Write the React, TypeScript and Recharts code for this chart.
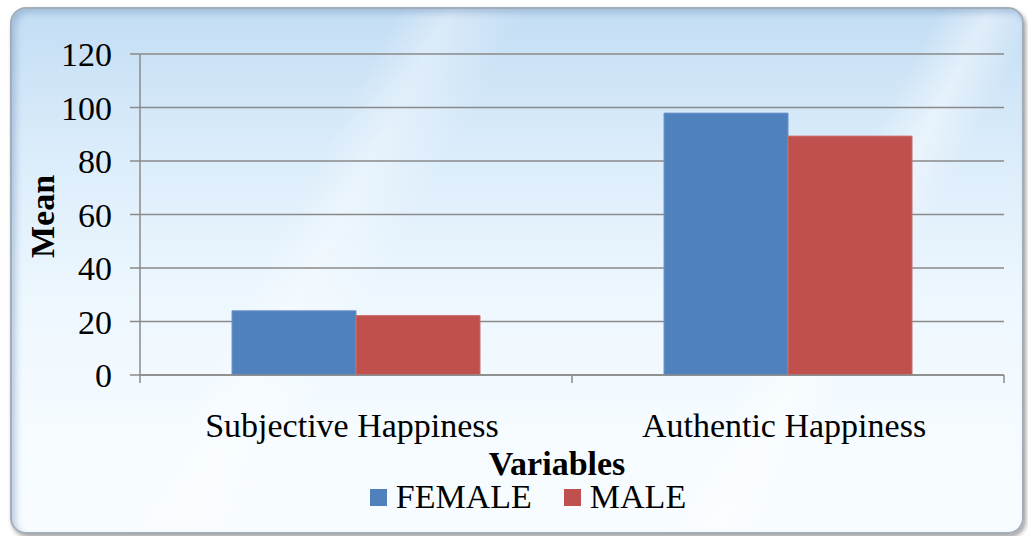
import React from 'react';
import { BarChart, Bar, XAxis, YAxis, CartesianGrid, Legend, Label } from 'recharts';

const categories = ['Subjective Happiness', 'Authentic Happiness'];
const femaleValues = [24, 97.9];
const maleValues = [22.2, 89.3];
const yTicks = [0, 20, 40, 60, 80, 100, 120];
const seriesNames = { female: 'FEMALE', male: 'MALE' };

const data = categories.map((c, i) => ({ name: c, female: femaleValues[i], male: maleValues[i] }));

const FONT = '"Liberation Serif", "Times New Roman", serif';
const AXIS = '#8a8a8a';

const CategoryTick = (props: any) => {
  const { x, y, payload, index, visibleTicksCount } = props;
  const off = payload.offset || 0;
  const isLast = index === visibleTicksCount - 1;
  return (
    <g>
      <line x1={x - off} x2={x - off} y1={y} y2={y + 8} stroke={AXIS} strokeWidth={1.5} />
      {isLast && <line x1={x + off} x2={x + off} y1={y} y2={y + 8} stroke={AXIS} strokeWidth={1.5} />}
      <text x={x - 4} y={y + 62} textAnchor="middle" fontFamily={FONT} fontSize={34} fill="#000">
        {payload.value}
      </text>
    </g>
  );
};

const LegendContent = (props: any) => {
  const { payload } = props;
  return (
    <div style={{ display: 'flex', justifyContent: 'center', alignItems: 'center', paddingLeft: 28, fontFamily: FONT, fontSize: 34, lineHeight: '34px', color: '#000' }}>
      {payload.map((p: any, i: number) => (
        <div key={i} style={{ display: 'flex', alignItems: 'center', marginRight: i === payload.length - 1 ? 0 : 32 }}>
          <span style={{ display: 'inline-block', width: 17, height: 17, background: p.color, marginRight: 9 }} />
          <span>{p.value}</span>
        </div>
      ))}
    </div>
  );
};

export default function App() {
  return (
    <div style={{ position: 'absolute', left: 0, top: 0, width: 1028, height: 536, background: '#ffffff', overflow: 'hidden' }}>
      <div
        style={{
          position: 'absolute',
          left: 10,
          top: 7,
          width: 1010,
          height: 523,
          borderRadius: 16,
          border: '2px solid #a3adb8',
          boxShadow: 'inset 4px 4px 6px rgba(120,150,190,0.45), 2px 3px 4px rgba(90,90,90,0.55)',
          background:
            'linear-gradient(118deg, rgba(255,255,255,0) 30%, rgba(255,255,255,0.35) 34%, rgba(255,255,255,0) 40%, rgba(255,255,255,0) 72%, rgba(255,255,255,0.45) 76%, rgba(255,255,255,0) 80%), linear-gradient(180deg, #c3ddf4 0%, #d9ebfa 25%, #edf7fe 55%, #f5fbff 80%, #f8fcff 100%)',
        }}
      />
      <div style={{ position: 'absolute', left: 0, top: 0 }}>
        <BarChart
          width={1028}
          height={536}
          data={data}
          margin={{ top: 54, right: 24, bottom: 56, left: 0 }}
          barCategoryGap="21.3%"
          barGap={0}
        >
          <CartesianGrid vertical={false} stroke={AXIS} strokeWidth={1.5} />
          <XAxis
            dataKey="name"
            height={105}
            axisLine={{ stroke: AXIS, strokeWidth: 1.5 }}
            tickLine={false}
            tickSize={0}
            tickMargin={0}
            tick={<CategoryTick />}
            interval={0}
          >
            <Label
              content={(p: any) => {
                const vb = p.viewBox || { x: 140, y: 375, width: 864, height: 105 };
                const cx = vb.x + vb.width / 2 - 15;
                const by = vb.y + vb.height - 5;
                return (
                  <text x={cx} y={by} textAnchor="middle" fontFamily={FONT} fontSize={34} fontWeight="bold" fill="#000">
                    Variables
                  </text>
                );
              }}
            />
          </XAxis>
          <YAxis
            width={140}
            domain={[0, 120]}
            ticks={yTicks}
            interval={0}
            axisLine={{ stroke: AXIS, strokeWidth: 1.5 }}
            tickLine={{ stroke: AXIS, strokeWidth: 1.5 }}
            tickSize={10}
            tickMargin={18}
            tick={{ fontFamily: FONT, fontSize: 34, fill: '#000' }}
          >
            <Label
              content={(p: any) => {
                const vb = p.viewBox || { y: 54, height: 321 };
                const cy = vb.y + vb.height / 2 + 2;
                return (
                  <text
                    x={54}
                    y={cy}
                    transform={`rotate(-90, 54, ${cy})`}
                    textAnchor="middle"
                    fontFamily={FONT}
                    fontSize={34}
                    fontWeight="bold"
                    fill="#000"
                  >
                    Mean
                  </text>
                );
              }}
            />
          </YAxis>
          <Legend
            verticalAlign="middle"
            layout="horizontal"
            wrapperStyle={{ top: 480, left: 0, width: 1028 }}
            content={<LegendContent />}
          />
          <Bar dataKey="female" name={seriesNames.female} fill="#4f81bd" stroke="#6f95c8" strokeWidth={1} isAnimationActive={false} />
          <Bar dataKey="male" name={seriesNames.male} fill="#c0504d" stroke="#cc6f6c" strokeWidth={1} isAnimationActive={false} />
        </BarChart>
      </div>
    </div>
  );
}
